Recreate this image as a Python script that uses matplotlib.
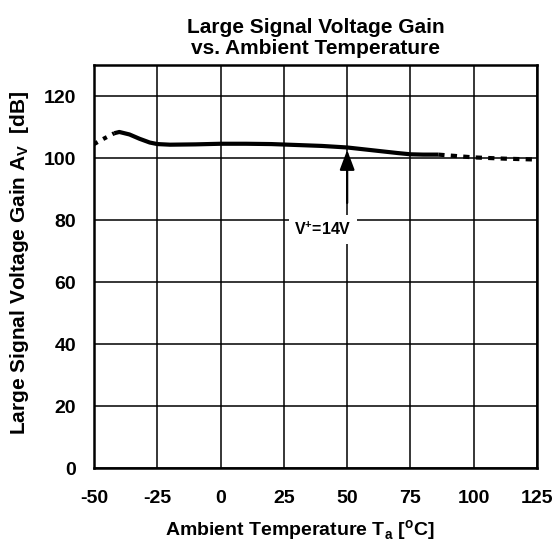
#!/usr/bin/env python3
"""Large signal voltage gain vs. ambient temperature."""

import matplotlib
matplotlib.use("Agg")
import matplotlib.pyplot as plt

plt.rcParams["font.family"] = ["Liberation Sans", "DejaVu Sans"]
plt.rcParams["font.weight"] = "bold"
plt.rcParams["axes.unicode_minus"] = False
plt.rcParams["mathtext.fontset"] = "custom"
plt.rcParams["mathtext.bf"] = "Liberation Sans:bold"
plt.rcParams["mathtext.rm"] = "Liberation Sans:bold"

# measured curve (solid part) and extrapolated ends (dotted)
temp_lo = [-50, -46, -42]
gain_lo = [104.5, 106.3, 108.0]
temp = [-42, -40, -36, -32, -28, -25, -20, -10, 0, 10, 20, 30, 40, 50, 60, 70, 75, 80, 86]
gain = [108.0, 108.4, 107.6, 106.2, 105.0, 104.5, 104.3, 104.4, 104.6, 104.6, 104.5, 104.2, 103.9,
        103.4, 102.5, 101.6, 101.2, 101.1, 101.1]
temp_hi = [86, 100, 112, 125]
gain_hi = [101.1, 100.2, 99.8, 99.5]

xticks = [-50, -25, 0, 25, 50, 75, 100, 125]
yticks = [0, 20, 40, 60, 80, 100, 120]

fig = plt.figure(figsize=(5.58, 5.5), dpi=100)
ax = fig.add_axes([0.1685, 0.149, 0.7939, 0.7328])

ax.plot(temp, gain, color="black", linewidth=3.0, solid_capstyle="butt", zorder=3)
ax.plot(temp_lo, gain_lo, color="black", linewidth=3.0, linestyle=(0, (1, 1.5)), zorder=3)
ax.plot(temp_hi, gain_hi, color="black", linewidth=3.0, linestyle=(0, (1.5, 1.5)), zorder=3)

ax.set_xlim(-50, 125)
ax.set_ylim(0, 130)
ax.set_xticks(xticks)
ax.set_yticks(yticks)
ax.tick_params(length=0, labelsize=14)
ax.tick_params(axis="x", pad=16)
ax.tick_params(axis="y", pad=13)
for lab in ax.get_xticklabels() + ax.get_yticklabels():
    lab.set_fontweight("bold")
ax.grid(True, color="black", linewidth=1.1)
ax.set_axisbelow(True)
for s in ax.spines.values():
    s.set_linewidth(1.8)

ax.annotate("", xy=(50, 102.6), xytext=(50, 85.5),
            arrowprops=dict(arrowstyle="-|>,head_length=1.2,head_width=0.45",
                            color="black", linewidth=1.6, shrinkA=0, shrinkB=0),
            zorder=4)
ax.text(40.5, 77, r"V$^{\mathbf{+}}$=14V", ha="center", va="center", fontsize=11.5,
        fontweight="bold", zorder=4,
        bbox=dict(facecolor="white", edgecolor="none", pad=4))

ax.set_title("Large Signal Voltage Gain\nvs. Ambient Temperature",
             fontsize=15, fontweight="bold", pad=8, linespacing=1.15)
ax.set_xlabel(r"Ambient Temperature T$_{\mathbf{a}}$ [$^{\mathbf{o}}$C]",
              fontsize=14, fontweight="bold")
ax.xaxis.set_label_coords(0.465, -0.125)
ax.set_ylabel(r"Large Signal Voltage Gain A$_{\mathbf{V}}$  [dB]",
              fontsize=15, fontweight="bold")
ax.yaxis.set_label_coords(-0.142, 0.51)

fig.savefig("out.png", dpi=100)
